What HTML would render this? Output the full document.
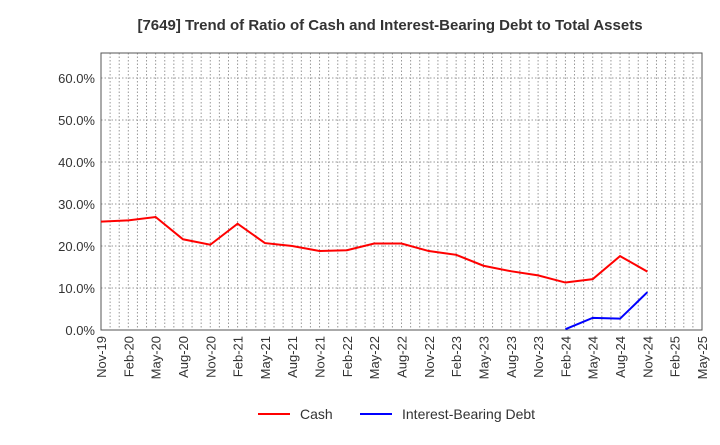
<!DOCTYPE html>
<html><head><meta charset="utf-8"><style>
body{margin:0;background:#fff;font-family:"Liberation Sans",sans-serif}
</style></head><body>
<svg width="720" height="440" id="c" xmlns="http://www.w3.org/2000/svg">
<text x="390" y="30" text-anchor="middle" font-size="15" font-weight="bold" fill="#333">[7649]  Trend of Ratio of Cash and Interest-Bearing Debt to Total Assets</text>
<g id="grid"></g><g id="axes"></g><g id="series"></g>
<g>
<line x1="258" y1="414" x2="290" y2="414" stroke="#f00" stroke-width="2"/>
<text x="300" y="419" font-size="14" fill="#333">Cash</text>
<line x1="360" y1="414" x2="392" y2="414" stroke="#00f" stroke-width="2"/>
<text x="402" y="419" font-size="14" fill="#333">Interest-Bearing Debt</text>
</g>
</svg>
<script>
const xLabels=["Nov-19","Feb-20","May-20","Aug-20","Nov-20","Feb-21","May-21","Aug-21","Nov-21","Feb-22","May-22","Aug-22","Nov-22","Feb-23","May-23","Aug-23","Nov-23","Feb-24","May-24","Aug-24","Nov-24","Feb-25","May-25"];
const yTicks=[0,10,20,30,40,50,60];
const cash=[25.8,26.1,26.9,21.6,20.3,25.3,20.7,20.0,18.8,19.0,20.6,20.6,18.8,17.9,15.3,14.0,13.0,11.3,12.1,17.6,13.9];
const debtStart=17;
const debt=[0.2,2.9,2.7,9.0];
const L=101,R=702,T=53,B=330;
const x=i=>L+(R-L)*i/22;
const y=v=>B-v*4.2;
const NS="http://www.w3.org/2000/svg";
function mk(p,t,a){const e=document.createElementNS(NS,t);for(const k in a)e.setAttribute(k,a[k]);document.getElementById(p).appendChild(e);return e;}
for(let m=0;m<=66;m++){const xx=L+(R-L)*m/66;const e=mk('grid','line',{x1:xx,x2:xx,y1:T,y2:B,stroke:'#999','stroke-dasharray':'1.5,2','stroke-width':1});

}
yTicks.forEach(v=>{const g=mk('grid','line',{x1:L,x2:R,y1:y(v),y2:y(v),stroke:'#999','stroke-dasharray':'1.5,2'});


const t=mk('axes','text',{x:L-6,y:y(v)+5,'text-anchor':'end','font-size':13,fill:'#333'});t.textContent=v.toFixed(1)+'%';

});
xLabels.forEach((s,i)=>{const t=mk('axes','text',{transform:`translate(${x(i)+5},${B+6}) rotate(-90)`,'text-anchor':'end','font-size':13,fill:'#333'});t.textContent=s;

});
const f=mk('axes','rect',{x:L,y:T,width:R-L,height:B-T,fill:'none',stroke:'#555'});


const c=mk('series','polyline',{points:cash.map((v,i)=>x(i)+','+y(v)).join(' '),fill:'none',stroke:'#f00','stroke-width':2});


const d=mk('series','polyline',{points:debt.map((v,i)=>x(i+debtStart)+','+y(v)).join(' '),fill:'none',stroke:'#00f','stroke-width':2});


</script>
</body></html>
